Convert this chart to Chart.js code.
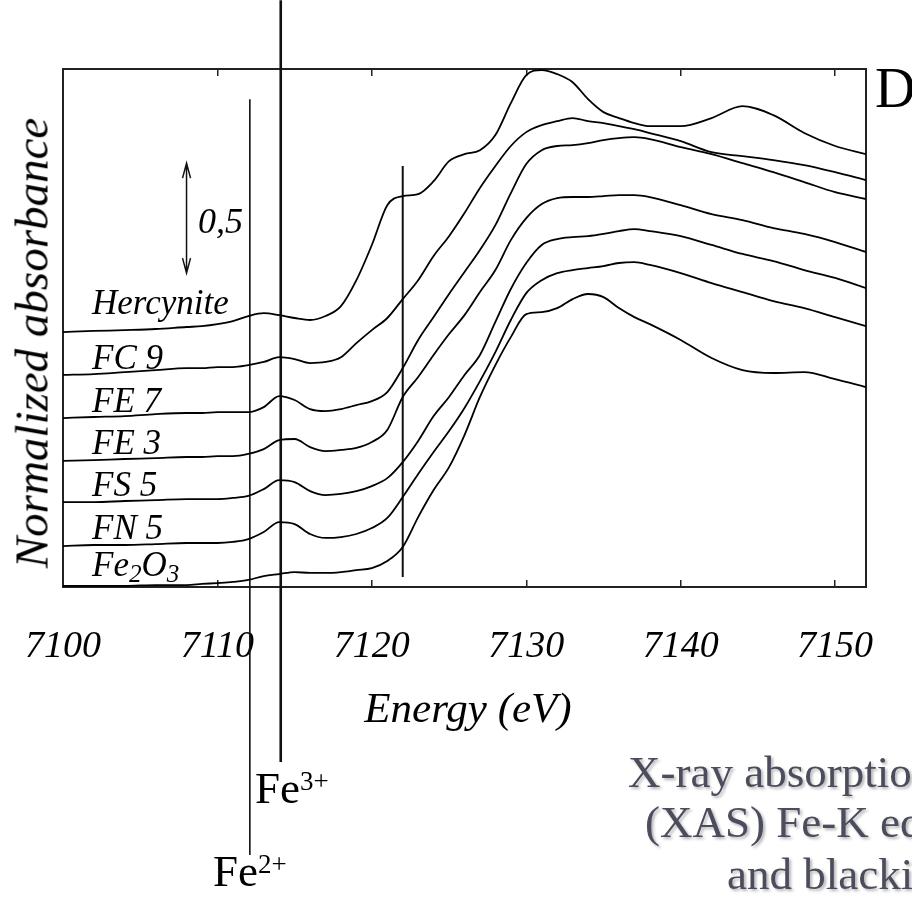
<!DOCTYPE html>
<html>
<head>
<meta charset="utf-8">
<script src="https://cdn.jsdelivr.net/npm/chart.js@4/dist/chart.umd.min.js"></script>
<style>
  html, body { margin: 0; padding: 0; background: #fff; overflow: hidden; }
  #wrap { position: relative; width: 912px; height: 904px; overflow: hidden; }
  #xasChart { position: absolute; left: 0; top: 0; }
  .lbl { position: absolute; font-family: "Liberation Serif", serif; line-height: 1; white-space: nowrap; color: #000; }
  .it { font-style: italic; }
  .sp { position: relative; top: -0.5em; font-size: 0.6em; }
  .sb { position: relative; top: 0.22em; font-size: 0.72em; }
  .cap { color: #4b4d5c; font-size: 45px; text-shadow: 2px 2px 3px rgba(0,0,0,0.3); }
</style>
</head>
<body>
<div id="wrap">
  <canvas id="xasChart" width="912" height="904"></canvas>

  <div class="lbl it" style="font-size:47px; left:32px; top:343px; transform: translate(-50%,-50%) rotate(-90deg);">Normalized absorbance</div>
  <div class="lbl it" style="font-size:43px; left:468px; top:686px; transform: translateX(-50%);">Energy (eV)</div>

  <div class="lbl it" style="font-size:35px; left:92px; top:285px;">Hercynite</div>
  <div class="lbl it" style="font-size:35px; left:92px; top:340px;">FC 9</div>
  <div class="lbl it" style="font-size:35px; left:92px; top:383px;">FE 7</div>
  <div class="lbl it" style="font-size:35px; left:92px; top:425px;">FE 3</div>
  <div class="lbl it" style="font-size:35px; left:92px; top:467px;">FS 5</div>
  <div class="lbl it" style="font-size:35px; left:92px; top:510px;">FN 5</div>
  <div class="lbl it" style="font-size:35px; left:92px; top:547px;">Fe<span class="sb">2</span>O<span class="sb">3</span></div>

  <div class="lbl it" style="font-size:36px; left:198px; top:203px;">0,5</div>

  <div class="lbl" style="font-size:45px; left:255px; top:766px;">Fe<span class="sp">3+</span></div>
  <div class="lbl" style="font-size:45px; left:213px; top:849px;">Fe<span class="sp">2+</span></div>

  <div class="lbl" style="font-size:56px; left:875px; top:60px;">D</div>

  <div class="lbl cap" style="left:628px; top:750px;">X-ray absorption</div>
  <div class="lbl cap" style="left:645px; top:800px;">(XAS) Fe-K edge</div>
  <div class="lbl cap" style="left:727px; top:852px;">and blackish</div>
</div>

<script>
// photon energy (eV) where the spectra were read
const energy = [7100, 7102, 7104, 7106, 7108, 7109, 7110, 7111, 7112, 7113, 7114, 7115, 7116, 7117, 7118, 7119,
    7120, 7121, 7122, 7123, 7124, 7125, 7126, 7127, 7128, 7129, 7130, 7131, 7132, 7133, 7134, 7135, 7136, 7137,
    7138, 7140, 7142, 7144, 7146, 7148, 7150, 7152];

// normalized absorbance, stacked with the offsets of the figure
const hercynite = [1.159, 1.164, 1.168, 1.173, 1.182, 1.186, 1.195, 1.209, 1.232, 1.245, 1.236, 1.223, 1.214, 1.232,
    1.277, 1.395, 1.555, 1.736, 1.777, 1.786, 1.845, 1.936, 1.968, 1.986, 2.055, 2.2, 2.327, 2.35, 2.332, 2.295,
    2.218, 2.159, 2.132, 2.109, 2.095, 2.095, 2.132, 2.186, 2.145, 2.064, 2.005, 1.968];
const fc9 = [0.964, 0.968, 0.977, 0.986, 0.995, 0.995, 1.0, 1.0, 1.009, 1.023, 1.045, 1.036, 1.018, 1.023, 1.045,
    1.109, 1.168, 1.223, 1.309, 1.395, 1.505, 1.595, 1.7, 1.814, 1.914, 2.005, 2.068, 2.1, 2.118, 2.132, 2.118,
    2.109, 2.095, 2.082, 2.064, 2.027, 1.977, 1.959, 1.941, 1.918, 1.886, 1.85];
const fe7 = [0.768, 0.773, 0.777, 0.786, 0.791, 0.791, 0.795, 0.795, 0.795, 0.818, 0.868, 0.85, 0.809, 0.8, 0.809,
    0.827, 0.845, 0.886, 0.995, 1.123, 1.227, 1.332, 1.432, 1.532, 1.645, 1.791, 1.923, 1.986, 2.005, 2.009, 2.018,
    2.032, 2.041, 2.045, 2.036, 2.0, 1.968, 1.927, 1.886, 1.841, 1.795, 1.764];
const fe3 = [0.573, 0.577, 0.582, 0.586, 0.591, 0.591, 0.595, 0.595, 0.605, 0.627, 0.668, 0.673, 0.636, 0.618, 0.623,
    0.632, 0.659, 0.714, 0.864, 0.955, 1.055, 1.15, 1.236, 1.341, 1.441, 1.577, 1.677, 1.741, 1.768, 1.773, 1.773,
    1.777, 1.782, 1.782, 1.773, 1.736, 1.695, 1.668, 1.632, 1.605, 1.568, 1.523];
const fs5 = [0.386, 0.386, 0.391, 0.395, 0.4, 0.4, 0.4, 0.405, 0.414, 0.445, 0.486, 0.477, 0.436, 0.418, 0.423,
    0.436, 0.459, 0.495, 0.568, 0.664, 0.777, 0.864, 0.964, 1.055, 1.205, 1.355, 1.473, 1.555, 1.582, 1.591, 1.595,
    1.605, 1.618, 1.627, 1.618, 1.595, 1.555, 1.514, 1.482, 1.441, 1.405, 1.359];
const fn5 = [0.186, 0.191, 0.191, 0.195, 0.2, 0.2, 0.2, 0.205, 0.218, 0.25, 0.295, 0.286, 0.241, 0.223, 0.227,
    0.241, 0.268, 0.314, 0.409, 0.514, 0.614, 0.709, 0.814, 0.936, 1.068, 1.214, 1.336, 1.395, 1.427, 1.441, 1.45,
    1.459, 1.473, 1.477, 1.464, 1.427, 1.382, 1.341, 1.3, 1.268, 1.227, 1.186];
const fe2o3 = [0.005, 0.005, 0.005, 0.009, 0.009, 0.014, 0.018, 0.023, 0.032, 0.05, 0.059, 0.068, 0.064, 0.064,
    0.068, 0.077, 0.086, 0.118, 0.182, 0.318, 0.441, 0.545, 0.691, 0.864, 1.009, 1.136, 1.241, 1.25, 1.268, 1.309,
    1.332, 1.318, 1.268, 1.227, 1.195, 1.123, 1.041, 0.986, 0.973, 0.977, 0.945, 0.909];

const sampleNames = ["Hercynite", "FC 9", "FE 7", "FE 3", "FS 5", "FN 5", "Fe2O3"];

const tickValues = [7100, 7110, 7120, 7130, 7140, 7150];
const tickLabels = ["7100", "7110", "7120", "7130", "7140", "7150"];

// Fe2+ pre-edge, Fe3+ pre-edge, edge reference
const markerEnergy = [7112.1, 7114.1, 7122];
const markerTop = [2.218, 2.668, 1.914];
const markerBottom = [-1.218, -0.795, 0.045];
const markerWidth = [1.6, 2.6, 2];

// 0,5 scale bar
const scaleBarEnergy = 7108;
const scaleBar = [1.427, 1.927];

const series = [hercynite, fc9, fe7, fe3, fs5, fn5, fe2o3];

const curveSets = series.map((vals, i) => ({
    label: sampleNames[i],
    data: energy.map((e, j) => ({ x: e, y: vals[j] })),
    borderColor: "#000",
    borderWidth: 1.8,
    pointRadius: 0,
    cubicInterpolationMode: "monotone",
    fill: false
}));

const markerSets = markerEnergy.map((e, i) => ({
    label: "marker " + e,
    data: [{ x: e, y: markerTop[i] }, { x: e, y: markerBottom[i] }],
    borderColor: "#111",
    borderWidth: markerWidth[i],
    pointRadius: 0,
    tension: 0,
    clip: false
}));

const scaleBarPlugin = {
    id: "scaleBar",
    afterDatasetsDraw(chart) {
        const { ctx, scales } = chart;
        const px = scales.x.getPixelForValue(scaleBarEnergy);
        const top = scales.y.getPixelForValue(scaleBar[1]);
        const bottom = scales.y.getPixelForValue(scaleBar[0]);
        ctx.save();
        ctx.strokeStyle = "#111";
        ctx.lineWidth = 1.5;
        ctx.beginPath();
        ctx.moveTo(px, top);
        ctx.lineTo(px, bottom);
        ctx.moveTo(px - 4, top + 15);
        ctx.lineTo(px, top);
        ctx.lineTo(px + 4, top + 15);
        ctx.moveTo(px - 4, bottom - 15);
        ctx.lineTo(px, bottom);
        ctx.lineTo(px + 4, bottom - 15);
        ctx.stroke();
        ctx.restore();
    }
};

const setTicks = scale => { scale.ticks = tickValues.map(v => ({ value: v })); };

const frameGrid = { drawOnChartArea: false, drawTicks: true, tickLength: -7, color: "#222", lineWidth: 1.5 };
const frameBorder = { display: true, color: "#222", width: 2 };

new Chart(document.getElementById("xasChart"), {
    type: "line",
    data: { datasets: [...curveSets, ...markerSets] },
    options: {
        responsive: false,
        animation: false,
        layout: { padding: { left: 63, top: 69, right: 46, bottom: 190 } },
        plugins: { legend: { display: false }, tooltip: { enabled: false } },
        scales: {
            x: {
                type: "linear",
                position: "bottom",
                min: 7100,
                max: 7152,
                afterBuildTicks: setTicks,
                ticks: {
                    autoSkip: false,
                    maxRotation: 0,
                    padding: 0,
                    color: "#000",
                    font: { family: "Liberation Serif", size: 38, style: "italic", lineHeight: 3.526 },
                    callback: (v, i) => tickLabels[i]
                },
                grid: frameGrid,
                border: frameBorder
            },
            xTop: {
                type: "linear",
                position: "top",
                min: 7100,
                max: 7152,
                afterBuildTicks: setTicks,
                ticks: {
                    autoSkip: false,
                    maxRotation: 0,
                    padding: 0,
                    font: { size: 5, lineHeight: 1.4 },
                    callback: () => ""
                },
                grid: frameGrid,
                border: frameBorder
            },
            y: {
                type: "linear",
                position: "left",
                min: 0,
                max: 2.355,
                ticks: { display: false },
                grid: { drawOnChartArea: false, drawTicks: false },
                border: frameBorder
            },
            yRight: {
                type: "linear",
                position: "right",
                min: 0,
                max: 2.355,
                ticks: { display: false },
                grid: { drawOnChartArea: false, drawTicks: false },
                border: frameBorder
            }
        }
    },
    plugins: [scaleBarPlugin]
});
</script>
</body>
</html>
